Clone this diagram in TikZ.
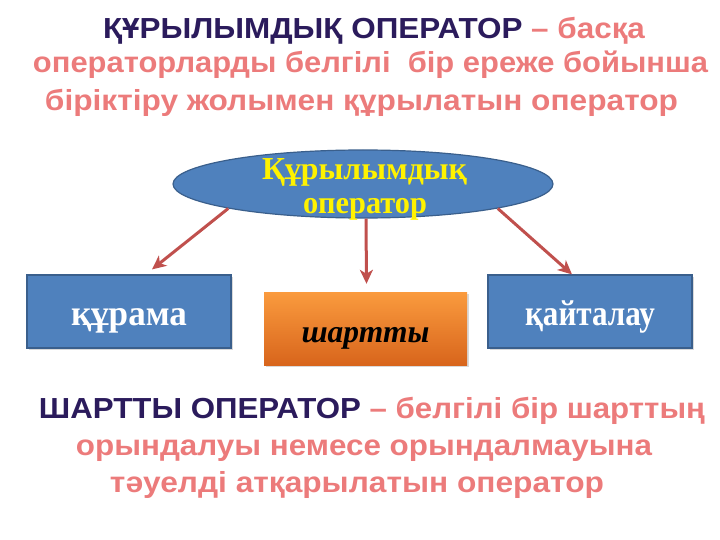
\documentclass[tikz,border=0pt]{standalone}
\usepackage{graphicx}
\usepackage{fontspec}
\setmainfont{Liberation Serif}
\newfontfamily\headFont{Liberation Sans}
\usetikzlibrary{arrows.meta}
\usetikzlibrary{shapes.geometric}
\usetikzlibrary{shadows}
\definecolor{headDark}{HTML}{2B1B5C}
\definecolor{headPink}{HTML}{EC7B7B}
\definecolor{boxBlue}{HTML}{4F81BD}
\definecolor{boxEdge}{HTML}{3A5F8C}
\definecolor{arrowRed}{HTML}{C0504D}
\definecolor{orangeTop}{HTML}{FA9B3E}
\definecolor{orangeBottom}{HTML}{D8651C}
%% Stretch a text to a given width, keeping its height.
\newcommand{\fitText}[2]{\resizebox{#1}{\height}{#2}}

\begin{document}
\begin{tikzpicture}[x=1pt,y=-1pt,%%
  headStyle/.style={anchor=base,inner sep=0pt,font=\headFont\bfseries\fontsize{29}{35}\selectfont,text=headPink},%%
  ellStyle/.style={anchor=base,inner sep=0pt,text=yellow,font=\bfseries\fontsize{32}{35}\selectfont},%%
  shadowStyle/.style={drop shadow={opacity=0.3,shadow xshift=1.5pt,shadow yshift=-2pt}},%%
  kindBox/.style={minimum width=204pt,minimum height=73pt,text height=27pt,text depth=0pt,shadowStyle},%%
  blueBox/.style={kindBox,draw=boxEdge,line width=1.2pt,fill=boxBlue,font=\bfseries\fontsize{36}{36}\selectfont,text=white},%%
  arrowStyle/.style={draw=arrowRed,line width=3pt,-{Stealth[length=14pt,width=13pt,inset=4pt]}}%%
]
\useasboundingbox (0,0) rectangle (720,540);
%%
%% The definition at the top.
\node[headStyle] (topLineA) at (374,39)
  {\fitText{542pt}{\textcolor{headDark}{ҚҰРЫЛЫМДЫҚ ОПЕРАТОР} – басқа}};
\node[headStyle] (topLineB) at (370.5,73) {\fitText{675pt}{операторларды белгілі\ \ бір ереже бойынша}};
\node[headStyle] (topLineC) at (361.5,111) {\fitText{633pt}{біріктіру жолымен құрылатын оператор}};
%%
%% The ellipse and its three kinds.
\node[ellipse,draw=boxEdge,line width=1.2pt,fill=boxBlue,minimum width=380pt,minimum height=68pt,inner sep=0pt] (ell) at (363,184) {};
\node[ellStyle] (ellTextA) at (364.5,180) {\fitText{205pt}{Құрылымдық}};
\node[ellStyle] (ellTextB) at (365,214) {\fitText{124pt}{оператор}};
\node[blueBox] (comp) at (129,311.5) {\fitText{116pt}{құрама}};
\node[blueBox] (loop) at (590,311.5) {\fitText{130pt}{қайталау}};
\node[kindBox,top color=orangeTop,bottom color=orangeBottom,minimum width=203pt,
  font=\bfseries\itshape\fontsize{32}{32}\selectfont,text=black] (cond) at (365.5,328.5) {\fitText{128pt}{шартты}};
%%
%% The arrows.
\draw[arrowStyle] (ell.south west) -- ([xshift=23pt,yshift=5pt]comp.north);
\draw[arrowStyle] ([xshift=3pt]ell.south) -- ([xshift=1pt,yshift=8pt]cond.north);
\draw[arrowStyle] (ell.south east) -- ([xshift=-18pt]loop.north);
%%
%% The definition at the bottom.
\node[headStyle] (bottomLineA) at (372,418)
  {\fitText{666pt}{\textcolor{headDark}{ШАРТТЫ ОПЕРАТОР} – белгілі бір шарттың}};
\node[headStyle] (bottomLineB) at (364,455) {\fitText{576pt}{орындалуы немесе орындалмауына}};
\node[headStyle] (bottomLineC) at (357,492) {\fitText{494pt}{тәуелді атқарылатын оператор}};
\end{tikzpicture}
\end{document}
